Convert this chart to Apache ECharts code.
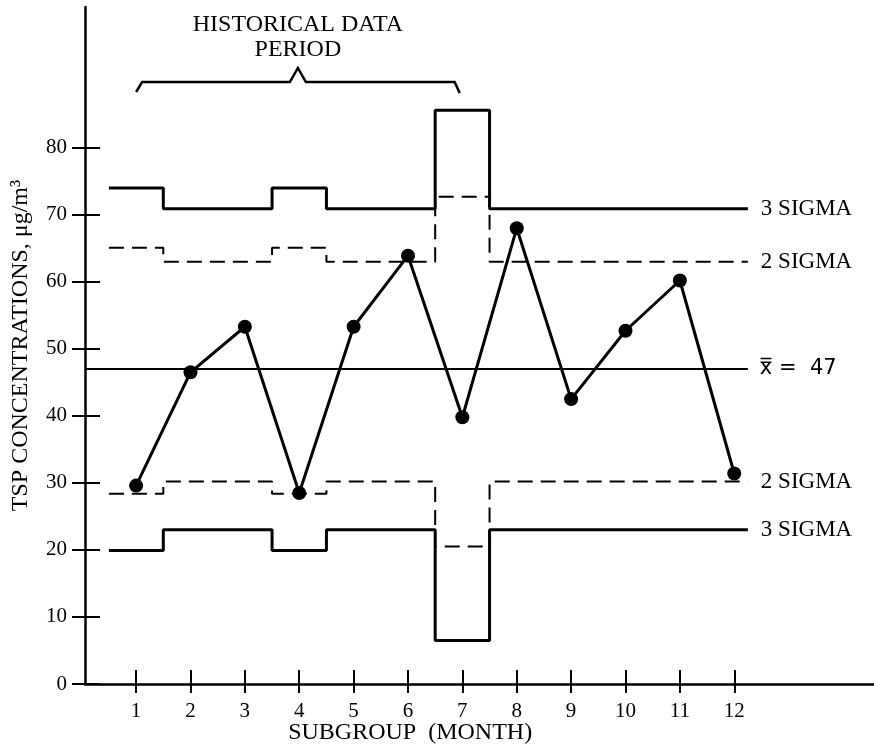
<!DOCTYPE html>
<html>
<head>
<meta charset="utf-8">
<script src="https://cdn.jsdelivr.net/npm/echarts@6/dist/echarts.min.js"></script>
<style>
  html, body { margin: 0; padding: 0; background: #fff; }
  #chart { width: 874px; height: 756px; }
</style>
</head>
<body>
<div id="chart"></div>
<script>
// Monthly TSP subgroup means and control limits (µg/m³)
const subgroups = [1, 2, 3, 4, 5, 6, 7, 8, 9, 10, 11, 12];
const tspMeans  = [29.6, 46.5, 53.3, 28.5, 53.3, 63.9, 39.8, 68.0, 42.5, 52.7, 60.2, 31.4];
const upper3    = [74.0, 70.9, 70.9, 74.0, 70.9, 70.9, 85.6, 70.9, 70.9, 70.9, 70.9, 70.9];
const upper2    = [65.1, 63.0, 63.0, 65.1, 63.0, 63.0, 72.7, 63.0, 63.0, 63.0, 63.0, 63.0];
const lower2    = [28.4, 30.2, 30.2, 28.4, 30.2, 30.2, 20.5, 30.2, 30.2, 30.2, 30.2, 30.2];
const lower3    = [19.9, 23.0, 23.0, 19.9, 23.0, 23.0, 6.5, 23.0, 23.0, 23.0, 23.0, 23.0];
const grandMean = 47;
const yTickValues = [0, 10, 20, 30, 40, 50, 60, 70, 80];
const historicalSpan = [1, 6.95];

const X_MIN = 0.06, X_MAX = 14.57, Y_MIN = 0, Y_MAX = 101;
const LINE_END = 12.25;
const SERIF = '"Liberation Serif", "DejaVu Serif", serif';

// Turn per-subgroup limits into a stepped outline spanning each month
function stepPoints(values) {
  const pts = [];
  values.forEach((v, i) => {
    const x = subgroups[i];
    pts.push([x - 0.5, v]);
    pts.push([i === values.length - 1 ? LINE_END : x + 0.5, v]);
  });
  return pts;
}

function limitSeries(name, values, dashed) {
  return {
    name: name,
    type: 'line',
    data: stepPoints(values),
    showSymbol: false,
    symbol: 'none',
    silent: true,
    lineStyle: dashed
      ? { color: '#000', width: 2, type: [15, 8] }
      : { color: '#000', width: 3, type: 'solid' },
    endLabel: {
      show: true,
      formatter: name,
      distance: 13,
      color: '#000',
      fontFamily: SERIF,
      fontSize: 23
    },
    z: 2
  };
}

const chart = echarts.init(document.getElementById('chart'), null, { renderer: 'canvas' });

const axisLineStyle = { color: '#000', width: 2.5 };

chart.setOption({
  backgroundColor: '#fff',
  animation: false,
  grid: { left: 85, right: 0, top: 7, bottom: 72, containLabel: false, outerBoundsMode: 'none' },
  xAxis: [
    {
      type: 'value', min: X_MIN, max: X_MAX,
      axisLine: { show: true, onZero: false, lineStyle: axisLineStyle },
      axisTick: { show: true, inside: true, length: 14, customValues: subgroups, lineStyle: { color: '#000', width: 2 } },
      axisLabel: { show: true, customValues: subgroups, margin: 17, color: '#000', fontFamily: SERIF, fontSize: 21 },
      splitLine: { show: false }
    },
    {
      type: 'value', min: X_MIN, max: X_MAX, position: 'bottom',
      axisLine: { show: false },
      axisTick: { show: true, inside: false, length: 9, customValues: subgroups, lineStyle: { color: '#000', width: 2 } },
      axisLabel: { show: false },
      splitLine: { show: false }
    }
  ],
  yAxis: [
    {
      type: 'value', min: Y_MIN, max: Y_MAX,
      name: 'TSP CONCENTRATIONS, μg/m³',
      nameLocation: 'middle',
      nameGap: 52,
      nameRotate: 90,
      nameTextStyle: { color: '#000', fontFamily: SERIF, fontSize: 24 },
      axisLine: { show: true, onZero: false, lineStyle: axisLineStyle },
      axisTick: { show: true, inside: false, length: 13, customValues: yTickValues, lineStyle: { color: '#000', width: 2 } },
      axisLabel: { show: true, customValues: yTickValues, margin: 18, color: '#000', fontFamily: SERIF, fontSize: 21 },
      splitLine: { show: false }
    },
    {
      type: 'value', min: Y_MIN, max: Y_MAX, position: 'left',
      axisLine: { show: false },
      axisTick: { show: true, inside: true, length: 15, customValues: yTickValues, lineStyle: { color: '#000', width: 2 } },
      axisLabel: { show: false },
      splitLine: { show: false }
    }
  ],
  series: [
    limitSeries('3 SIGMA', upper3, false),
    limitSeries('2 SIGMA', upper2, true),
    limitSeries('2 SIGMA', lower2, true),
    limitSeries('3 SIGMA', lower3, false),
    {
      name: 'mean',
      type: 'line',
      data: [[X_MIN, grandMean], [LINE_END, grandMean]],
      showSymbol: false,
      symbol: 'none',
      silent: true,
      lineStyle: { color: '#000', width: 2 },
      endLabel: {
        show: true,
        distance: 12,
        formatter: 'x\u033F =  ' + grandMean,
        color: '#000',
        fontFamily: '"DejaVu Sans", sans-serif',
        fontSize: 21
      },
      z: 2
    },
    {
      name: 'TSP',
      type: 'line',
      data: subgroups.map((m, i) => [m, tspMeans[i]]),
      symbol: 'circle',
      symbolSize: 14,
      itemStyle: { color: '#000' },
      lineStyle: { color: '#000', width: 3 },
      z: 3
    }
  ]
});

// Brace above the months used as the historical baseline, with its caption
const left = chart.convertToPixel({ gridIndex: 0 }, [historicalSpan[0], 0])[0];
const right = chart.convertToPixel({ gridIndex: 0 }, [historicalSpan[1], 0])[0];
const mid = (left + right) / 2;
const braceY = 82;
chart.setOption({
  graphic: [
    {
      type: 'polyline',
      shape: {
        points: [
          [left, braceY + 10], [left + 6, braceY], [mid - 8, braceY], [mid, braceY - 14],
          [mid + 8, braceY], [right - 5, braceY], [right, braceY + 11]
        ]
      },
      style: { stroke: '#000', lineWidth: 2.5, fill: null },
      silent: true
    },
    {
      type: 'text', x: mid, y: braceY - 57,
      style: { text: 'HISTORICAL DATA', fill: '#000', font: '24px ' + SERIF, textAlign: 'center', textVerticalAlign: 'middle' },
      silent: true
    },
    {
      type: 'text', x: mid, y: braceY - 32,
      style: { text: 'PERIOD', fill: '#000', font: '24px ' + SERIF, textAlign: 'center', textVerticalAlign: 'middle' },
      silent: true
    },
    {
      type: 'text',
      x: chart.convertToPixel({ gridIndex: 0 }, [6.04, 0])[0],
      y: 733,
      style: { text: 'SUBGROUP  (MONTH)', fill: '#000', font: '24px ' + SERIF, textAlign: 'center', textVerticalAlign: 'middle' },
      silent: true
    }
  ]
});
</script>
</body>
</html>
